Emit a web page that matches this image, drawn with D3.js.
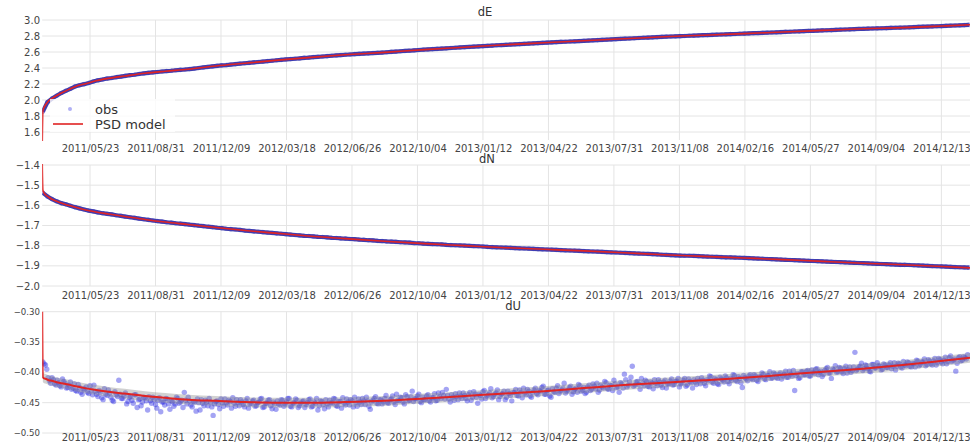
<!DOCTYPE html>
<html><head><meta charset="utf-8">
<script src="https://cdn.jsdelivr.net/npm/d3@7"></script>
<style>
body{margin:0;background:#fff;}
svg text{font-family:"DejaVu Sans",sans-serif;fill:#333;}
</style></head><body>
<svg id="c" width="970" height="445"></svg>
<script>
// ---------------- data ----------------
const xTickLabels = ["2011/05/23","2011/08/31","2011/12/09","2012/03/18","2012/06/26","2012/10/04","2013/01/12","2013/04/22","2013/07/31","2013/11/08","2014/02/16","2014/05/27","2014/09/04","2014/12/13"];
const panelTitles = ["dE","dN","dU"];
const yTicksE = [1.6,1.8,2.0,2.2,2.4,2.6,2.8,3.0];
const yTicksN = [-2.0,-1.9,-1.8,-1.7,-1.6,-1.5,-1.4];
const yTicksU = [-0.50,-0.45,-0.40,-0.35,-0.30];
const seriesNames = ["obs","PSD model"];

const modelDates = ["2011-03-11","2011-03-12","2011-03-14","2011-03-17","2011-03-21","2011-03-26","2011-04-01","2011-04-10","2011-04-20","2011-05-01","2011-05-15","2011-06-01","2011-06-20","2011-07-15","2011-08-15","2011-09-15","2011-10-20","2011-12-01","2012-01-15","2012-03-01","2012-04-20","2012-06-15","2012-08-15","2012-10-15","2012-12-15","2013-02-15","2013-04-15","2013-06-15","2013-08-15","2013-10-15","2013-12-15","2014-02-15","2014-04-15","2014-06-15","2014-08-15","2014-10-15","2014-12-15","2015-01-26"];
const modelE = [1.40,1.86,1.91,1.95,1.99,2.02,2.05,2.09,2.13,2.17,2.20,2.24,2.27,2.30,2.335,2.36,2.385,2.425,2.46,2.495,2.53,2.565,2.595,2.63,2.66,2.69,2.715,2.74,2.765,2.79,2.81,2.83,2.85,2.87,2.89,2.905,2.925,2.94];
const modelN = [-1.38,-1.525,-1.54,-1.55,-1.56,-1.57,-1.578,-1.59,-1.60,-1.61,-1.622,-1.633,-1.643,-1.655,-1.67,-1.683,-1.695,-1.71,-1.725,-1.738,-1.752,-1.765,-1.778,-1.79,-1.80,-1.81,-1.818,-1.826,-1.835,-1.845,-1.853,-1.861,-1.869,-1.878,-1.887,-1.895,-1.903,-1.91];
const modelU = [-0.30,-0.408,-0.41,-0.411,-0.413,-0.414,-0.416,-0.418,-0.42,-0.423,-0.426,-0.429,-0.432,-0.435,-0.439,-0.442,-0.445,-0.447,-0.449,-0.45,-0.45,-0.449,-0.447,-0.443,-0.439,-0.435,-0.431,-0.426,-0.421,-0.417,-0.413,-0.409,-0.404,-0.399,-0.394,-0.388,-0.381,-0.376];
// half-width of the grey model band in dU
const bandU = 0.008;

// observations: first epoch and sampling interval (days)
const obsStart = "2011-03-12";
const obsStartU2 = "2011-03-14";
const obsStepEN = 7;
const obsStepU = 4;
const obsE = [1.855,1.972,2.018,2.053,2.087,2.115,2.14,2.168,2.185,2.198,2.213,2.23,2.246,2.256,2.268,2.275,2.285,2.292,2.302,2.31,
2.316,2.325,2.332,2.339,2.345,2.35,2.356,2.362,2.366,2.372,2.377,2.381,2.387,2.393,2.40,2.407,2.413,2.42,2.427,2.433,
2.437,2.443,2.449,2.454,2.459,2.464,2.47,2.475,2.48,2.486,2.491,2.497,2.502,2.507,2.512,2.516,2.52,2.526,2.53,2.536,
2.54,2.544,2.549,2.553,2.557,2.562,2.566,2.569,2.573,2.576,2.58,2.583,2.587,2.59,2.593,2.597,2.601,2.605,2.609,2.613,
2.616,2.621,2.625,2.629,2.632,2.636,2.639,2.643,2.646,2.65,2.653,2.657,2.66,2.663,2.667,2.67,2.674,2.677,2.68,2.684,
2.687,2.69,2.693,2.696,2.699,2.702,2.705,2.708,2.711,2.714,2.717,2.72,2.723,2.726,2.728,2.731,2.734,2.737,2.74,2.743,
2.746,2.749,2.751,2.754,2.757,2.76,2.763,2.766,2.769,2.772,2.775,2.778,2.78,2.783,2.786,2.789,2.791,2.794,2.796,2.798,
2.80,2.803,2.805,2.807,2.81,2.812,2.814,2.816,2.819,2.821,2.823,2.825,2.828,2.83,2.832,2.835,2.837,2.839,2.841,2.844,
2.846,2.849,2.851,2.853,2.856,2.858,2.86,2.863,2.865,2.867,2.87,2.872,2.874,2.876,2.879,2.881,2.883,2.885,2.888,2.89,
2.892,2.894,2.896,2.897,2.899,2.901,2.903,2.904,2.906,2.909,2.911,2.914,2.916,2.918,2.92,2.922,2.924,2.927,2.929,2.931,
2.934,2.936,2.939];
const obsN = [-1.538,-1.556,-1.569,-1.58,-1.589,-1.595,-1.602,-1.609,-1.615,-1.621,-1.626,-1.63,-1.635,-1.639,-1.642,-1.645,-1.649,-1.652,-1.656,-1.659,
-1.662,-1.666,-1.669,-1.672,-1.675,-1.678,-1.681,-1.684,-1.686,-1.689,-1.691,-1.693,-1.696,-1.698,-1.701,-1.703,-1.706,-1.708,-1.711,-1.713,
-1.716,-1.718,-1.72,-1.722,-1.725,-1.727,-1.729,-1.731,-1.733,-1.735,-1.737,-1.739,-1.741,-1.743,-1.745,-1.747,-1.749,-1.751,-1.752,-1.754,
-1.756,-1.757,-1.759,-1.761,-1.762,-1.764,-1.765,-1.767,-1.768,-1.77,-1.771,-1.773,-1.774,-1.776,-1.777,-1.779,-1.78,-1.781,-1.783,-1.784,
-1.785,-1.787,-1.788,-1.79,-1.791,-1.792,-1.793,-1.794,-1.796,-1.797,-1.798,-1.799,-1.80,-1.801,-1.802,-1.803,-1.804,-1.806,-1.807,-1.808,
-1.809,-1.81,-1.811,-1.812,-1.813,-1.814,-1.815,-1.816,-1.817,-1.818,-1.819,-1.82,-1.821,-1.822,-1.823,-1.824,-1.825,-1.826,-1.827,-1.828,
-1.829,-1.83,-1.831,-1.832,-1.833,-1.834,-1.835,-1.836,-1.837,-1.838,-1.839,-1.84,-1.841,-1.842,-1.843,-1.845,-1.846,-1.847,-1.848,-1.849,
-1.85,-1.85,-1.851,-1.852,-1.853,-1.854,-1.855,-1.856,-1.857,-1.858,-1.858,-1.859,-1.86,-1.861,-1.862,-1.863,-1.864,-1.865,-1.866,-1.867,
-1.868,-1.869,-1.87,-1.871,-1.872,-1.873,-1.874,-1.875,-1.876,-1.877,-1.878,-1.879,-1.88,-1.881,-1.882,-1.883,-1.884,-1.885,-1.886,-1.887,
-1.888,-1.889,-1.89,-1.891,-1.892,-1.893,-1.894,-1.895,-1.895,-1.896,-1.897,-1.898,-1.899,-1.90,-1.901,-1.902,-1.903,-1.904,-1.905,-1.906,
-1.907,-1.908,-1.909];
const obsU = [-0.383,-0.388,-0.409,-0.418,-0.412,-0.421,-0.417,-0.424,-0.415,-0.426,
-0.421,-0.428,-0.419,-0.431,-0.425,-0.436,-0.428,-0.433,-0.422,-0.437,
-0.431,-0.44,-0.433,-0.445,-0.436,-0.429,-0.441,-0.448,-0.437,-0.413,
-0.443,-0.439,-0.452,-0.441,-0.446,-0.437,-0.458,-0.444,-0.449,-0.442,
-0.462,-0.447,-0.441,-0.453,-0.446,-0.465,-0.449,-0.443,-0.452,-0.447,
-0.456,-0.441,-0.451,-0.446,-0.433,-0.452,-0.447,-0.457,-0.449,-0.444,
-0.462,-0.451,-0.446,-0.455,-0.449,-0.471,-0.448,-0.453,-0.444,-0.456,
-0.45,-0.446,-0.459,-0.451,-0.445,-0.455,-0.449,-0.457,-0.443,-0.452,
-0.447,-0.456,-0.45,-0.444,-0.458,-0.451,-0.446,-0.455,-0.449,-0.461,
-0.452,-0.445,-0.456,-0.449,-0.443,-0.457,-0.451,-0.446,-0.455,-0.448,
-0.458,-0.45,-0.444,-0.456,-0.451,-0.462,-0.447,-0.453,-0.445,-0.457,
-0.45,-0.443,-0.455,-0.448,-0.459,-0.451,-0.444,-0.454,-0.447,-0.441,
-0.456,-0.449,-0.443,-0.453,-0.447,-0.461,-0.446,-0.44,-0.452,-0.445,
-0.449,-0.438,-0.451,-0.444,-0.449,-0.436,-0.447,-0.442,-0.452,-0.44,
-0.446,-0.431,-0.444,-0.439,-0.448,-0.441,-0.445,-0.437,-0.449,-0.442,
-0.447,-0.434,-0.443,-0.438,-0.428,-0.444,-0.437,-0.446,-0.44,-0.434,
-0.443,-0.438,-0.447,-0.433,-0.441,-0.436,-0.451,-0.438,-0.432,-0.443,
-0.437,-0.427,-0.44,-0.434,-0.445,-0.436,-0.431,-0.441,-0.435,-0.447,
-0.433,-0.438,-0.429,-0.442,-0.434,-0.428,-0.439,-0.433,-0.426,-0.437,
-0.431,-0.423,-0.436,-0.429,-0.441,-0.432,-0.426,-0.435,-0.429,-0.418,
-0.431,-0.425,-0.436,-0.428,-0.433,-0.422,-0.429,-0.435,-0.424,-0.43,
-0.419,-0.427,-0.433,-0.421,-0.426,-0.417,-0.428,-0.422,-0.413,-0.425,
-0.433,-0.419,-0.403,-0.424,-0.416,-0.39,-0.421,-0.415,-0.428,-0.418,
-0.413,-0.423,-0.416,-0.427,-0.418,-0.412,-0.421,-0.416,-0.426,-0.419,
-0.411,-0.42,-0.414,-0.424,-0.417,-0.41,-0.421,-0.415,-0.426,-0.416,
-0.41,-0.419,-0.413,-0.422,-0.414,-0.407,-0.418,-0.412,-0.42,-0.411,
-0.416,-0.409,-0.419,-0.413,-0.405,-0.415,-0.41,-0.425,-0.409,-0.414,
-0.404,-0.412,-0.406,-0.415,-0.408,-0.403,-0.412,-0.405,-0.41,-0.401,
-0.408,-0.404,-0.411,-0.403,-0.408,-0.398,-0.406,-0.43,-0.402,-0.409,
-0.399,-0.404,-0.397,-0.406,-0.40,-0.395,-0.404,-0.398,-0.403,-0.394,
-0.401,-0.41,-0.396,-0.40,-0.392,-0.399,-0.394,-0.401,-0.391,-0.397,
-0.367,-0.395,-0.39,-0.397,-0.388,-0.394,-0.399,-0.387,-0.393,-0.389,
-0.396,-0.386,-0.392,-0.388,-0.394,-0.384,-0.39,-0.386,-0.393,-0.388,
-0.383,-0.39,-0.385,-0.391,-0.381,-0.387,-0.383,-0.389,-0.379,-0.386,
-0.381,-0.388,-0.377,-0.383,-0.38,-0.386,-0.376,-0.382,-0.378,-0.385,
-0.374,-0.38,-0.376,-0.371];
const obsU2 = [-0.386,-0.395,-0.414,-0.409,-0.419,-0.413,-0.422,-0.411,-0.418,-0.425,
-0.416,-0.426,-0.43,-0.42,-0.433,-0.427,-0.424,-0.435,-0.429,-0.421,
-0.436,-0.43,-0.442,-0.427,-0.438,-0.434,-0.446,-0.432,-0.44,-0.436,
-0.443,-0.434,-0.448,-0.44,-0.451,-0.437,-0.445,-0.455,-0.441,-0.447,
-0.44,-0.451,-0.445,-0.459,-0.442,-0.449,-0.454,-0.444,-0.461,-0.448,
-0.452,-0.443,-0.449,-0.458,-0.446,-0.441,-0.454,-0.448,-0.464,-0.45,
-0.445,-0.455,-0.449,-0.443,-0.457,-0.452,-0.447,-0.46,-0.45,-0.444,
-0.454,-0.448,-0.442,-0.456,-0.45,-0.445,-0.453,-0.447,-0.459,-0.451,
-0.446,-0.455,-0.449,-0.443,-0.457,-0.451,-0.445,-0.46,-0.452,-0.447,
-0.454,-0.446,-0.452,-0.443,-0.456,-0.45,-0.444,-0.458,-0.451,-0.447,
-0.453,-0.445,-0.457,-0.449,-0.443,-0.455,-0.448,-0.46,-0.452,-0.446,
-0.451,-0.444,-0.456,-0.448,-0.442,-0.454,-0.449,-0.445,-0.457,-0.45,
-0.444,-0.453,-0.447,-0.441,-0.456,-0.449,-0.443,-0.451,-0.445,-0.452,
-0.443,-0.45,-0.445,-0.439,-0.453,-0.446,-0.441,-0.449,-0.437,-0.447,
-0.44,-0.448,-0.443,-0.436,-0.45,-0.445,-0.439,-0.447,-0.442,-0.435,
-0.446,-0.44,-0.433,-0.444,-0.438,-0.449,-0.441,-0.435,-0.445,-0.439,
-0.434,-0.443,-0.437,-0.446,-0.432,-0.441,-0.436,-0.444,-0.43,-0.439,
-0.434,-0.442,-0.436,-0.429,-0.44,-0.435,-0.445,-0.431,-0.438,-0.433,
-0.428,-0.439,-0.433,-0.426,-0.437,-0.431,-0.441,-0.429,-0.435,-0.43,
-0.425,-0.436,-0.43,-0.439,-0.427,-0.433,-0.422,-0.431,-0.426,-0.434,
-0.429,-0.423,-0.432,-0.426,-0.42,-0.431,-0.425,-0.433,-0.421,-0.428,
-0.423,-0.418,-0.429,-0.424,-0.415,-0.427,-0.421,-0.43,-0.419,-0.424,
-0.417,-0.426,-0.412,-0.421,-0.408,-0.423,-0.416,-0.42,-0.41,-0.422,
-0.415,-0.424,-0.418,-0.412,-0.422,-0.416,-0.425,-0.413,-0.419,-0.414,
-0.421,-0.415,-0.41,-0.419,-0.413,-0.423,-0.411,-0.417,-0.412,-0.42,
-0.414,-0.409,-0.418,-0.412,-0.406,-0.416,-0.41,-0.419,-0.408,-0.413,
-0.406,-0.415,-0.41,-0.404,-0.413,-0.407,-0.417,-0.405,-0.411,-0.406,
-0.41,-0.404,-0.413,-0.407,-0.401,-0.411,-0.405,-0.399,-0.409,-0.403,
-0.41,-0.401,-0.406,-0.398,-0.408,-0.403,-0.397,-0.405,-0.41,-0.399,
-0.404,-0.398,-0.406,-0.396,-0.402,-0.394,-0.40,-0.407,-0.397,-0.392,
-0.401,-0.395,-0.389,-0.399,-0.393,-0.402,-0.39,-0.396,-0.40,-0.391,
-0.397,-0.391,-0.385,-0.394,-0.389,-0.398,-0.387,-0.393,-0.384,-0.39,
-0.395,-0.388,-0.392,-0.384,-0.39,-0.396,-0.385,-0.391,-0.382,-0.389,
-0.384,-0.391,-0.386,-0.38,-0.389,-0.383,-0.378,-0.387,-0.381,-0.388,
-0.377,-0.384,-0.379,-0.386,-0.375,-0.382,-0.373,-0.38,-0.398,-0.376,
-0.381,-0.374,-0.378];

// ---------------- layout ----------------
const W = 970, H = 445;
const plotLeft = 42.2, plotRight = 970.2;
const xDomain = ["2011-03-11","2015-01-26"];
const panels = [
  {title: panelTitles[0], top: 20, bottom: 140, domain: [1.5, 3.0], ticks: yTicksE, fmt: d3.format(".1f"), model: modelE,
   obs: [{v: obsE, start: obsStart, step: obsStepEN}], titleX: 485, titleY: 16, xlabY: 151.5, yFont: 10},
  {title: panelTitles[1], top: 165, bottom: 286, domain: [-2.0, -1.4], ticks: yTicksN, fmt: d3.format(".1f"), model: modelN,
   obs: [{v: obsN, start: obsStart, step: obsStepEN}], titleX: 487, titleY: 163, xlabY: 299, yFont: 10},
  {title: panelTitles[2], top: 311.7, bottom: 433, domain: [-0.50, -0.30], ticks: yTicksU, fmt: d3.format(".2f"), model: modelU,
   obs: [{v: obsU, start: obsStart, step: obsStepU}, {v: obsU2, start: obsStartU2, step: obsStepU}], titleX: 513, titleY: 309.5, xlabY: 441, yFont: 8.6, band: bandU}
];

const parse = d3.timeParse("%Y-%m-%d");
const parseTick = d3.timeParse("%Y/%m/%d");
const fmtTick = d3.timeFormat("%Y/%m/%d");
const x = d3.scaleTime().domain(xDomain.map(parse)).range([plotLeft, plotRight]);
const tickDates = xTickLabels.map(parseTick);
const mDates = modelDates.map(parse);

const svg = d3.select("#c");
const defs = svg.append("defs");

panels.forEach((p, pi) => {
  const y = d3.scaleLinear().domain(p.domain).range([p.bottom, p.top]);
  const g = svg.append("g");
  const clipId = "clip" + pi;
  defs.append("clipPath").attr("id", clipId).append("rect")
    .attr("x", plotLeft).attr("y", p.top - 1).attr("width", W - plotLeft).attr("height", p.bottom - p.top + 2);

  // grid
  g.append("g").selectAll("line").data(p.ticks).join("line")
    .attr("x1", plotLeft).attr("x2", W).attr("y1", d => y(d)).attr("y2", d => y(d))
    .attr("stroke", "#e4e4e4").attr("stroke-width", 1);
  g.append("g").selectAll("line").data(tickDates).join("line")
    .attr("x1", d => x(d)).attr("x2", d => x(d)).attr("y1", p.top).attr("y2", p.bottom)
    .attr("stroke", "#e4e4e4").attr("stroke-width", 1);

  // y labels
  g.append("g").selectAll("text").data(p.ticks).join("text")
    .attr("x", 40).attr("y", d => y(d)).attr("dy", "0.35em")
    .attr("text-anchor", "end").style("font-size", p.yFont + "px").style("fill", "#444")
    .text(d => p.fmt(d).replace("-", "\u2212"));

  // x labels via axis
  const ax = d3.axisBottom(x).tickValues(tickDates).tickFormat(fmtTick).tickSize(0).tickPadding(0);
  const axg = g.append("g").attr("transform", `translate(0,${p.xlabY})`).call(ax);
  axg.select(".domain").remove();
  axg.selectAll("text").attr("dy", "0").style("font-size", "10px").style("fill", "#444").style("font-family", "DejaVu Sans, sans-serif");

  // title
  g.append("text").attr("x", p.titleX).attr("y", p.titleY)
    .attr("text-anchor", "middle").style("font-size", "11.5px").style("fill", "#333").text(p.title);

  const data = g.append("g").attr("clip-path", `url(#${clipId})`);
  const mdata = mDates.map((d, i) => ({d, v: p.model[i]}));

  p.obs.forEach(s => {
    const o0 = parse(s.start);
    const odata = s.v.map((v, i) => ({d: d3.timeDay.offset(o0, i * s.step), v}));
    if (!p.band) {
      // dense daily observations appear as a continuous dark band
      const oline = d3.line().x(d => x(d.d)).y(d => y(d.v));
      data.append("path").datum(odata).attr("d", oline).attr("fill", "none")
        .attr("stroke", "#2e2a9e").attr("stroke-width", 4.2).attr("stroke-linejoin", "round").attr("opacity", 0.9);
      data.append("g").selectAll("circle").data(odata).join("circle")
        .attr("cx", d => x(d.d)).attr("cy", d => y(d.v)).attr("r", 2.3)
        .attr("fill", "#3b3bc4").attr("opacity", 0.5);
    } else {
      data.append("g").selectAll("circle").data(odata).join("circle")
        .attr("cx", d => x(d.d)).attr("cy", d => y(d.v)).attr("r", 2.7)
        .attr("fill", "#2626e2").attr("opacity", 0.42);
    }
  });

  if (p.band) {
    const area = d3.area().x(d => x(d.d)).y0(d => y(d.v - p.band)).y1(d => y(d.v + p.band)).curve(d3.curveMonotoneX);
    data.append("path").datum(mdata.slice(1)).attr("d", area).attr("fill", "#8c8c8c").attr("opacity", 0.4);
  }

  const line = d3.line().x(d => x(d.d)).y(d => y(d.v)).curve(d3.curveMonotoneX);
  data.append("path").datum(mdata).attr("d", line).attr("fill", "none")
    .attr("stroke", "#e02424").attr("stroke-width", p.band ? 2 : 1.6);
});

// legend (top panel)
const lg = svg.append("g");
lg.append("rect").attr("x", 50).attr("y", 99).attr("width", 125).attr("height", 33).attr("fill", "#fff").attr("opacity", 0.8);
lg.append("circle").attr("cx", 70).attr("cy", 109).attr("r", 2).attr("fill", "#3a3ae6").attr("opacity", 0.4);
lg.append("text").attr("x", 95).attr("y", 109).attr("dy", "0.35em").style("font-size", "13px").style("fill", "#333").text(seriesNames[0]);
lg.append("line").attr("x1", 53).attr("x2", 83).attr("y1", 124).attr("y2", 124).attr("stroke", "#e02424").attr("stroke-width", 1.6);
lg.append("text").attr("x", 95).attr("y", 124).attr("dy", "0.35em").style("font-size", "13px").style("fill", "#333").text(seriesNames[1]);
</script>
</body></html>
